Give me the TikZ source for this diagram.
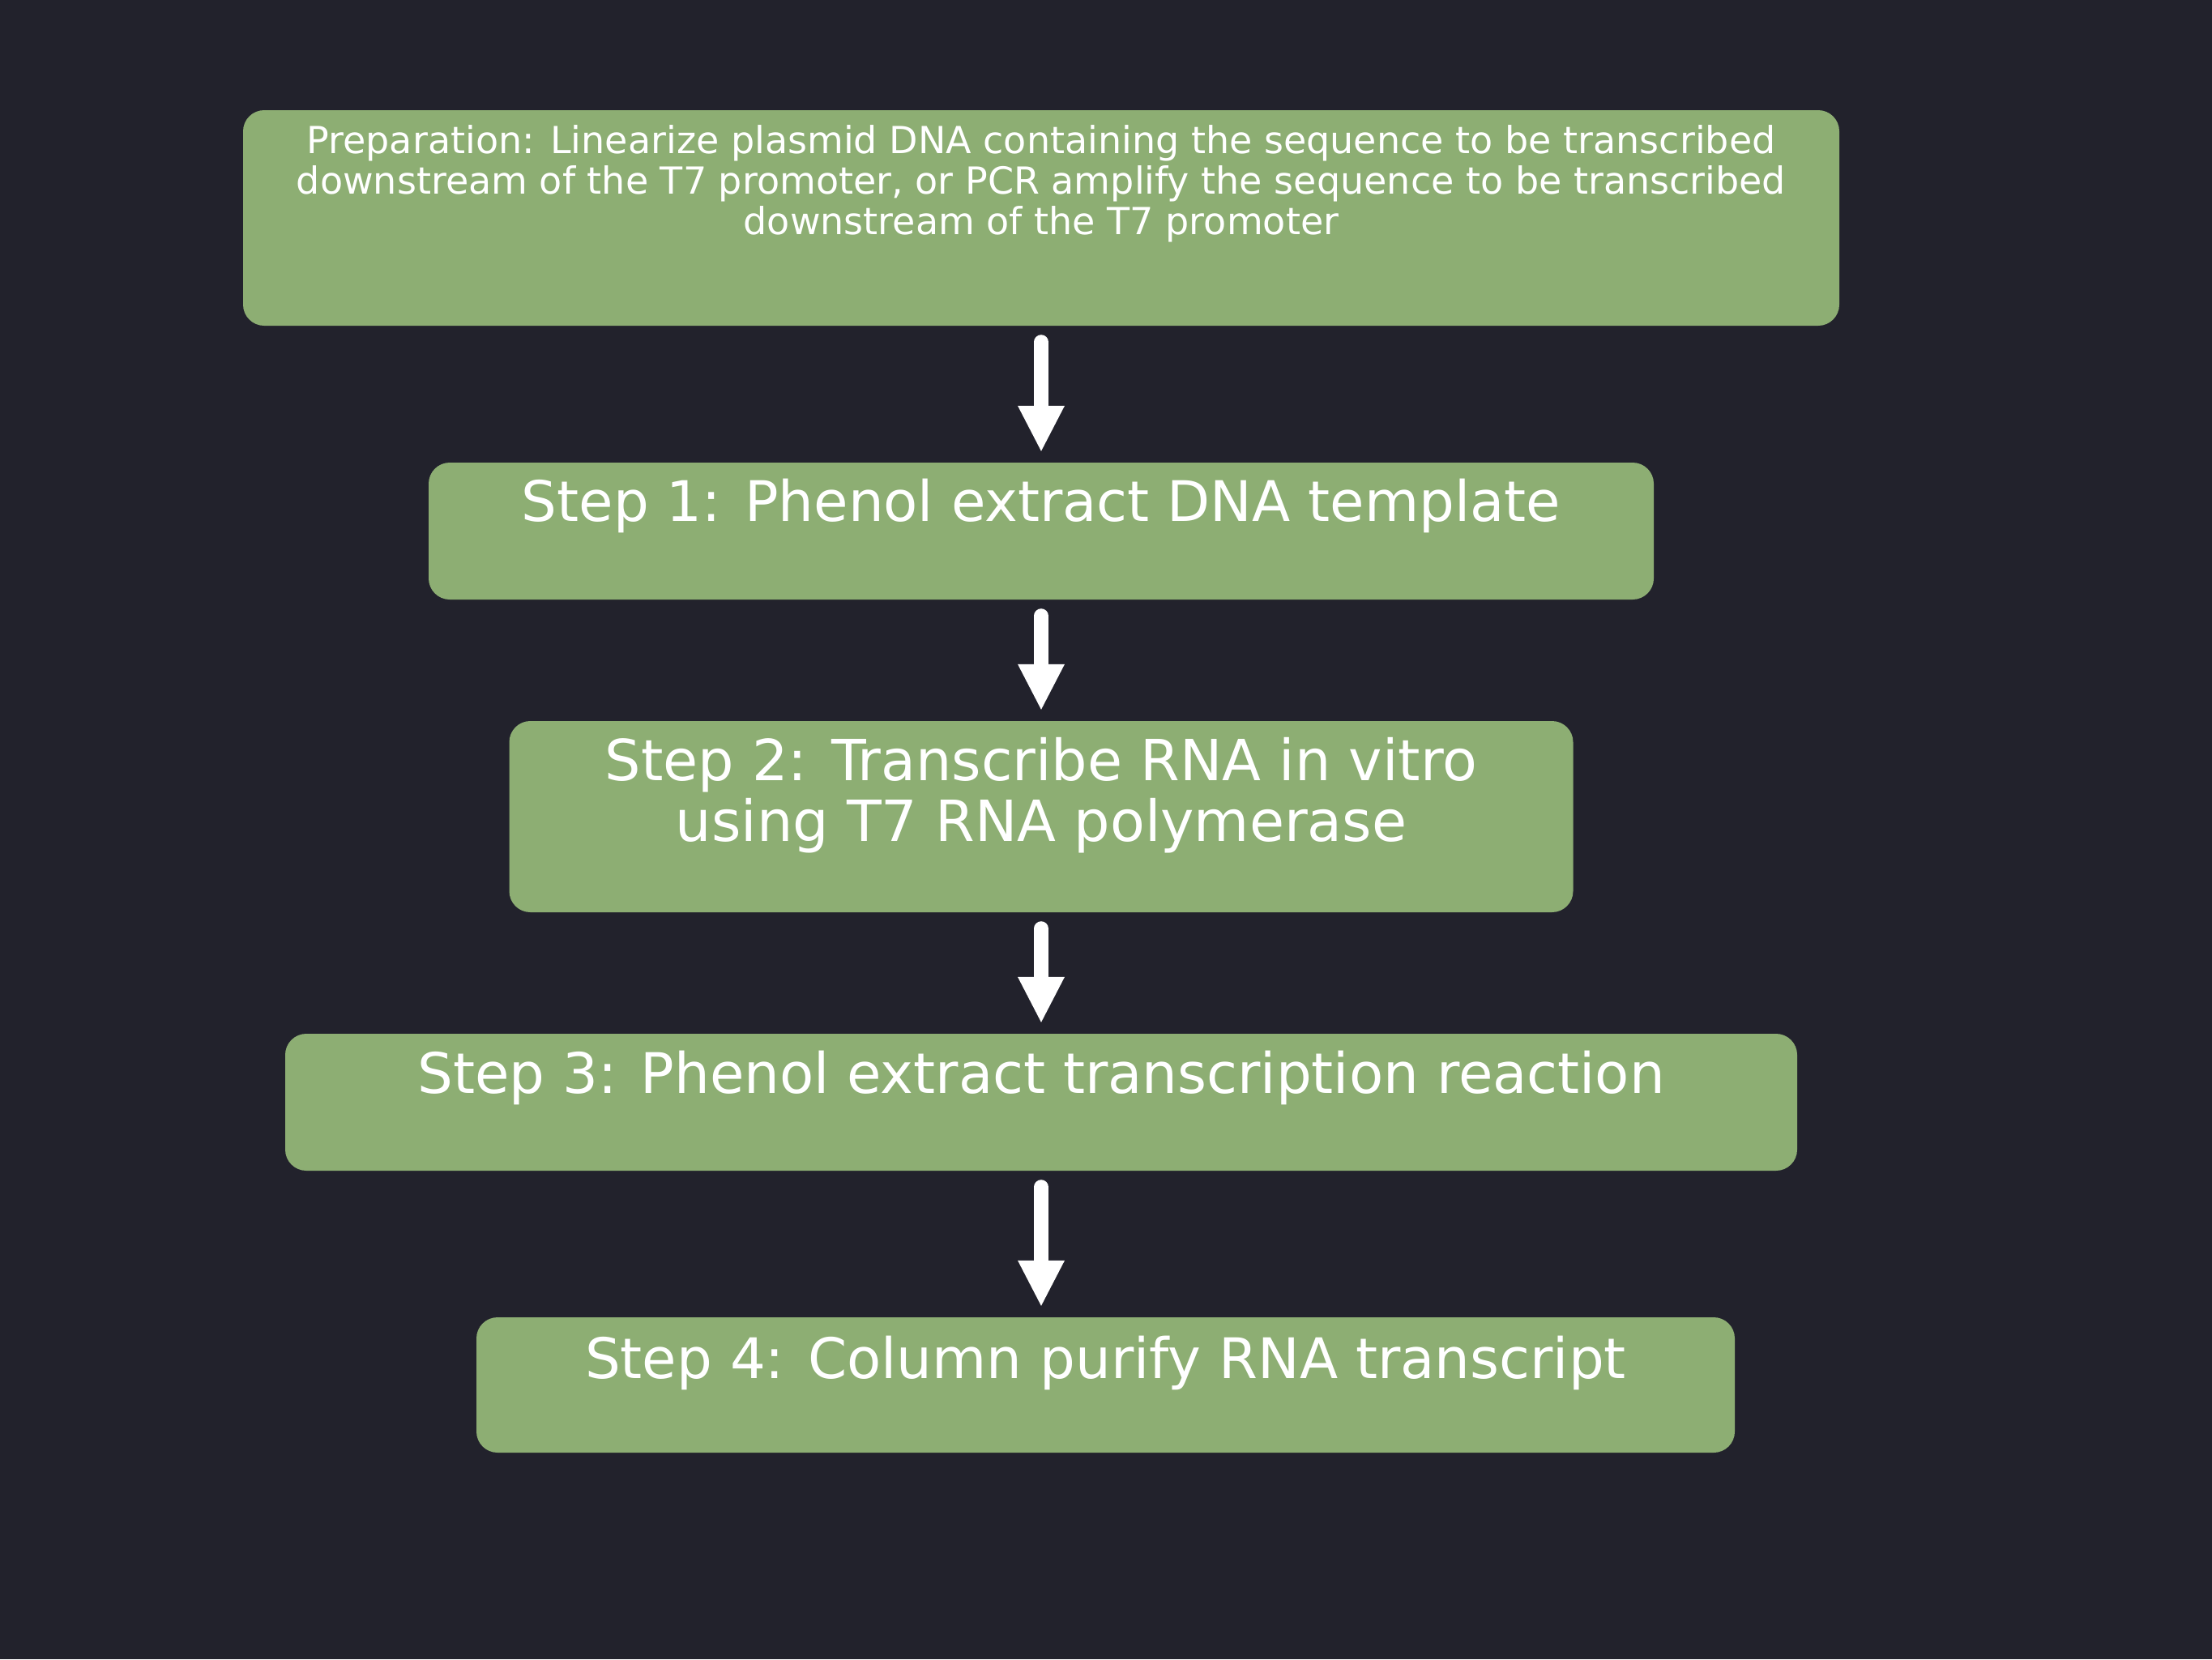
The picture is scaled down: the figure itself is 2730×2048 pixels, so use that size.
\documentclass[tikz,border=0pt]{standalone}
\usepackage{fontspec}
\setmainfont{DejaVu Sans}
\usetikzlibrary{arrows.meta}
\definecolor{bgc}{HTML}{22222C}
\definecolor{boxc}{HTML}{8DAE73}
\tikzset{
  stepbox/.style={draw=none, fill=boxc, rounded corners=26pt, inner sep=0pt},
  steptext/.style={text=white, align=center, inner sep=0pt, anchor=center},
  flow/.style={draw=white, line width=18pt, line cap=round,
    -{Triangle[width=58pt,length=56pt,line width=0pt,round=false]}, shorten <=20pt, shorten >=14pt}
}
\begin{document}
\begin{tikzpicture}[x=1pt,y=-1pt]
\fill[bgc] (0,0) rectangle (2730,2048);
\useasboundingbox (0,0) rectangle (2730,2048);
\node[stepbox, minimum width=1970pt, minimum height=266pt] (b0) at (1285,269) {};
\node[stepbox, minimum width=1512pt, minimum height=169pt] (b1) at (1285,655.5) {};
\node[stepbox, minimum width=1313pt, minimum height=236pt] (b2) at (1285,1008) {};
\node[stepbox, minimum width=1866pt, minimum height=169pt] (b3) at (1285,1360.5) {};
\node[stepbox, minimum width=1553pt, minimum height=167pt] (b4) at (1364.5,1709.5) {};
\node[steptext, font=\fontsize{46}{50}\selectfont] (t0) at (1285,227) {Preparation: Linearize plasmid DNA containing the sequence to be transcribed\\downstream of the T7 promoter, or PCR amplify the sequence to be transcribed\\downstream of the T7 promoter};
\node[steptext, font=\fontsize{69}{75}\selectfont] (t1) at (1285,624) {Step 1: Phenol extract DNA template};
\node[steptext, font=\fontsize{70}{75}\selectfont] (t2) at (1285,982) {Step 2: Transcribe RNA in vitro\\using T7 RNA polymerase};
\node[steptext, font=\fontsize{69}{75}\selectfont] (t3) at (1285,1330) {Step 3: Phenol extract transcription reaction};
\node[steptext, font=\fontsize{69}{75}\selectfont] (t4) at (1364.5,1682) {Step 4: Column purify RNA transcript};
\draw[flow] (b0.south) -- (b1.north);
\draw[flow] (b1.south) -- (b2.north);
\draw[flow] (b2.south) -- (b3.north);
\draw[flow] (b3.south) -- (b3.south |- b4.north);
\end{tikzpicture}
\end{document}
